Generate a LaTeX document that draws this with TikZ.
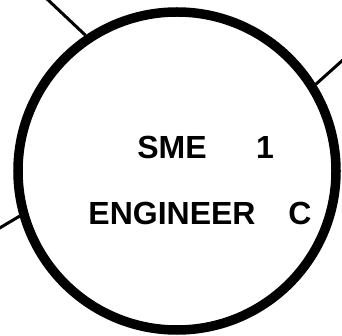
\documentclass[tikz,border=0pt]{standalone}
\usepackage{fontspec}
\setmainfont{Liberation Sans}
\usetikzlibrary{positioning}

\begin{document}
\begin{tikzpicture}[
    x=1pt, y=-1pt,
    role/.style={circle, draw=black, line width=9.5pt, minimum size=318pt, inner sep=0pt},
    tag/.style={font=\fontsize{32}{37}\selectfont\bfseries, inner sep=0pt},
    link/.style={line width=3pt, draw=black}
]
\useasboundingbox (0,0) rectangle (342,336);

% the circle and its labels
\node[role] (sme) at (177,171) {};
\node[tag] (smeword) at (172,147) {SME};
\node[tag] (smenum) at (265,147) {1};
\node[tag] (engword) at (172,213) {ENGINEER};
\node[tag] (engnum) at (300,213) {C};

% links leaving the picture
\coordinate (outnw) at (46,-2);
\coordinate (outne) at (344,59);
\coordinate (outw) at (-2,229);

\draw[link] (sme.124) -- (outnw);
\draw[link] (sme.32) -- (outne);
\draw[link] (sme.196) -- (outw);

\end{tikzpicture}
\end{document}
